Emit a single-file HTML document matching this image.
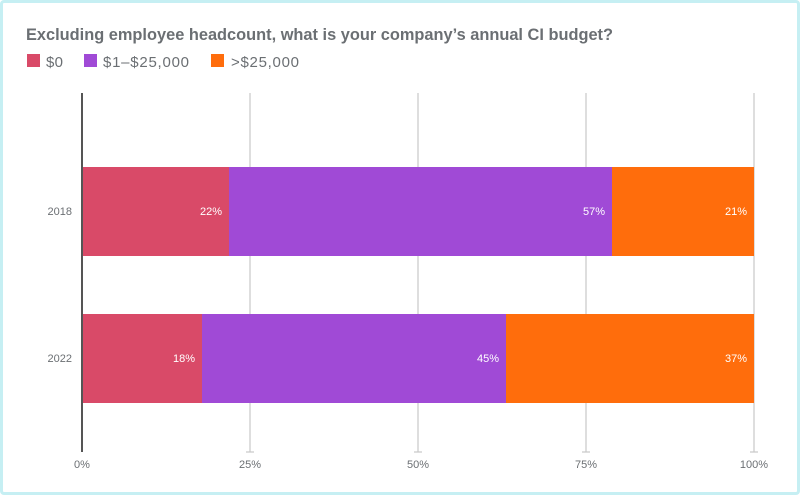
<!DOCTYPE html>
<html><head><style>
body{margin:0}
.w{position:relative;width:794px;height:489px;border:3px solid #c6eff3;border-radius:4px;background:#fff;font-family:"Liberation Sans",sans-serif;overflow:hidden}
</style></head><body><div class="w">
<svg width="794" height="489" style="position:absolute;left:-3px;top:-3px" overflow="visible">
<text x="26" y="40" font-size="17" font-weight="bold" fill="#6b6f73" textLength="587" lengthAdjust="spacingAndGlyphs">Excluding employee headcount, what is your company’s annual CI budget?</text>
<rect x="27" y="54" width="13" height="13" fill="#d94a68"/><text x="46" y="67" font-size="15" fill="#6b6f73" textLength="17">$0</text>
<rect x="84" y="54" width="13" height="13" fill="#a04ad6"/><text x="103" y="67" font-size="15" fill="#6b6f73" textLength="86">$1–$25,000</text>
<rect x="211" y="54" width="13" height="13" fill="#ff6d0c"/><text x="231" y="67" font-size="15" fill="#6b6f73" textLength="68">&gt;$25,000</text>
<g stroke="#c8c8c8" stroke-width="1.2">
<line x1="250" y1="93" x2="250" y2="452"/><line x1="418" y1="93" x2="418" y2="452"/><line x1="586" y1="93" x2="586" y2="452"/><line x1="754" y1="93" x2="754" y2="452"/>
<line x1="246" y1="452" x2="254" y2="452"/><line x1="414" y1="452" x2="422" y2="452"/><line x1="582" y1="452" x2="590" y2="452"/><line x1="750" y1="452" x2="758" y2="452"/>
</g>
<rect x="82" y="167" width="147" height="89" fill="#d94a68"/>
<rect x="229" y="167" width="383" height="89" fill="#a04ad6"/>
<rect x="612" y="167" width="142" height="89" fill="#ff6d0c"/>
<rect x="82" y="314" width="120" height="89" fill="#d94a68"/>
<rect x="202" y="314" width="304" height="89" fill="#a04ad6"/>
<rect x="506" y="314" width="248" height="89" fill="#ff6d0c"/>
<line x1="82" y1="93" x2="82" y2="452" stroke="#555" stroke-width="2"/>
<g font-size="11" fill="#fff" text-anchor="end">
<text x="222" y="215">22%</text><text x="605" y="215">57%</text><text x="747" y="215">21%</text>
<text x="195" y="362">18%</text><text x="499" y="362">45%</text><text x="747" y="362">37%</text>
</g>
<g font-size="11" fill="#6b6f73">
<text x="72" y="215" text-anchor="end">2018</text><text x="72" y="362" text-anchor="end">2022</text>
<text x="82" y="468" text-anchor="middle">0%</text><text x="250" y="468" text-anchor="middle">25%</text><text x="418" y="468" text-anchor="middle">50%</text><text x="586" y="468" text-anchor="middle">75%</text><text x="754" y="468" text-anchor="middle">100%</text>
</g>
</svg></div></body></html>
